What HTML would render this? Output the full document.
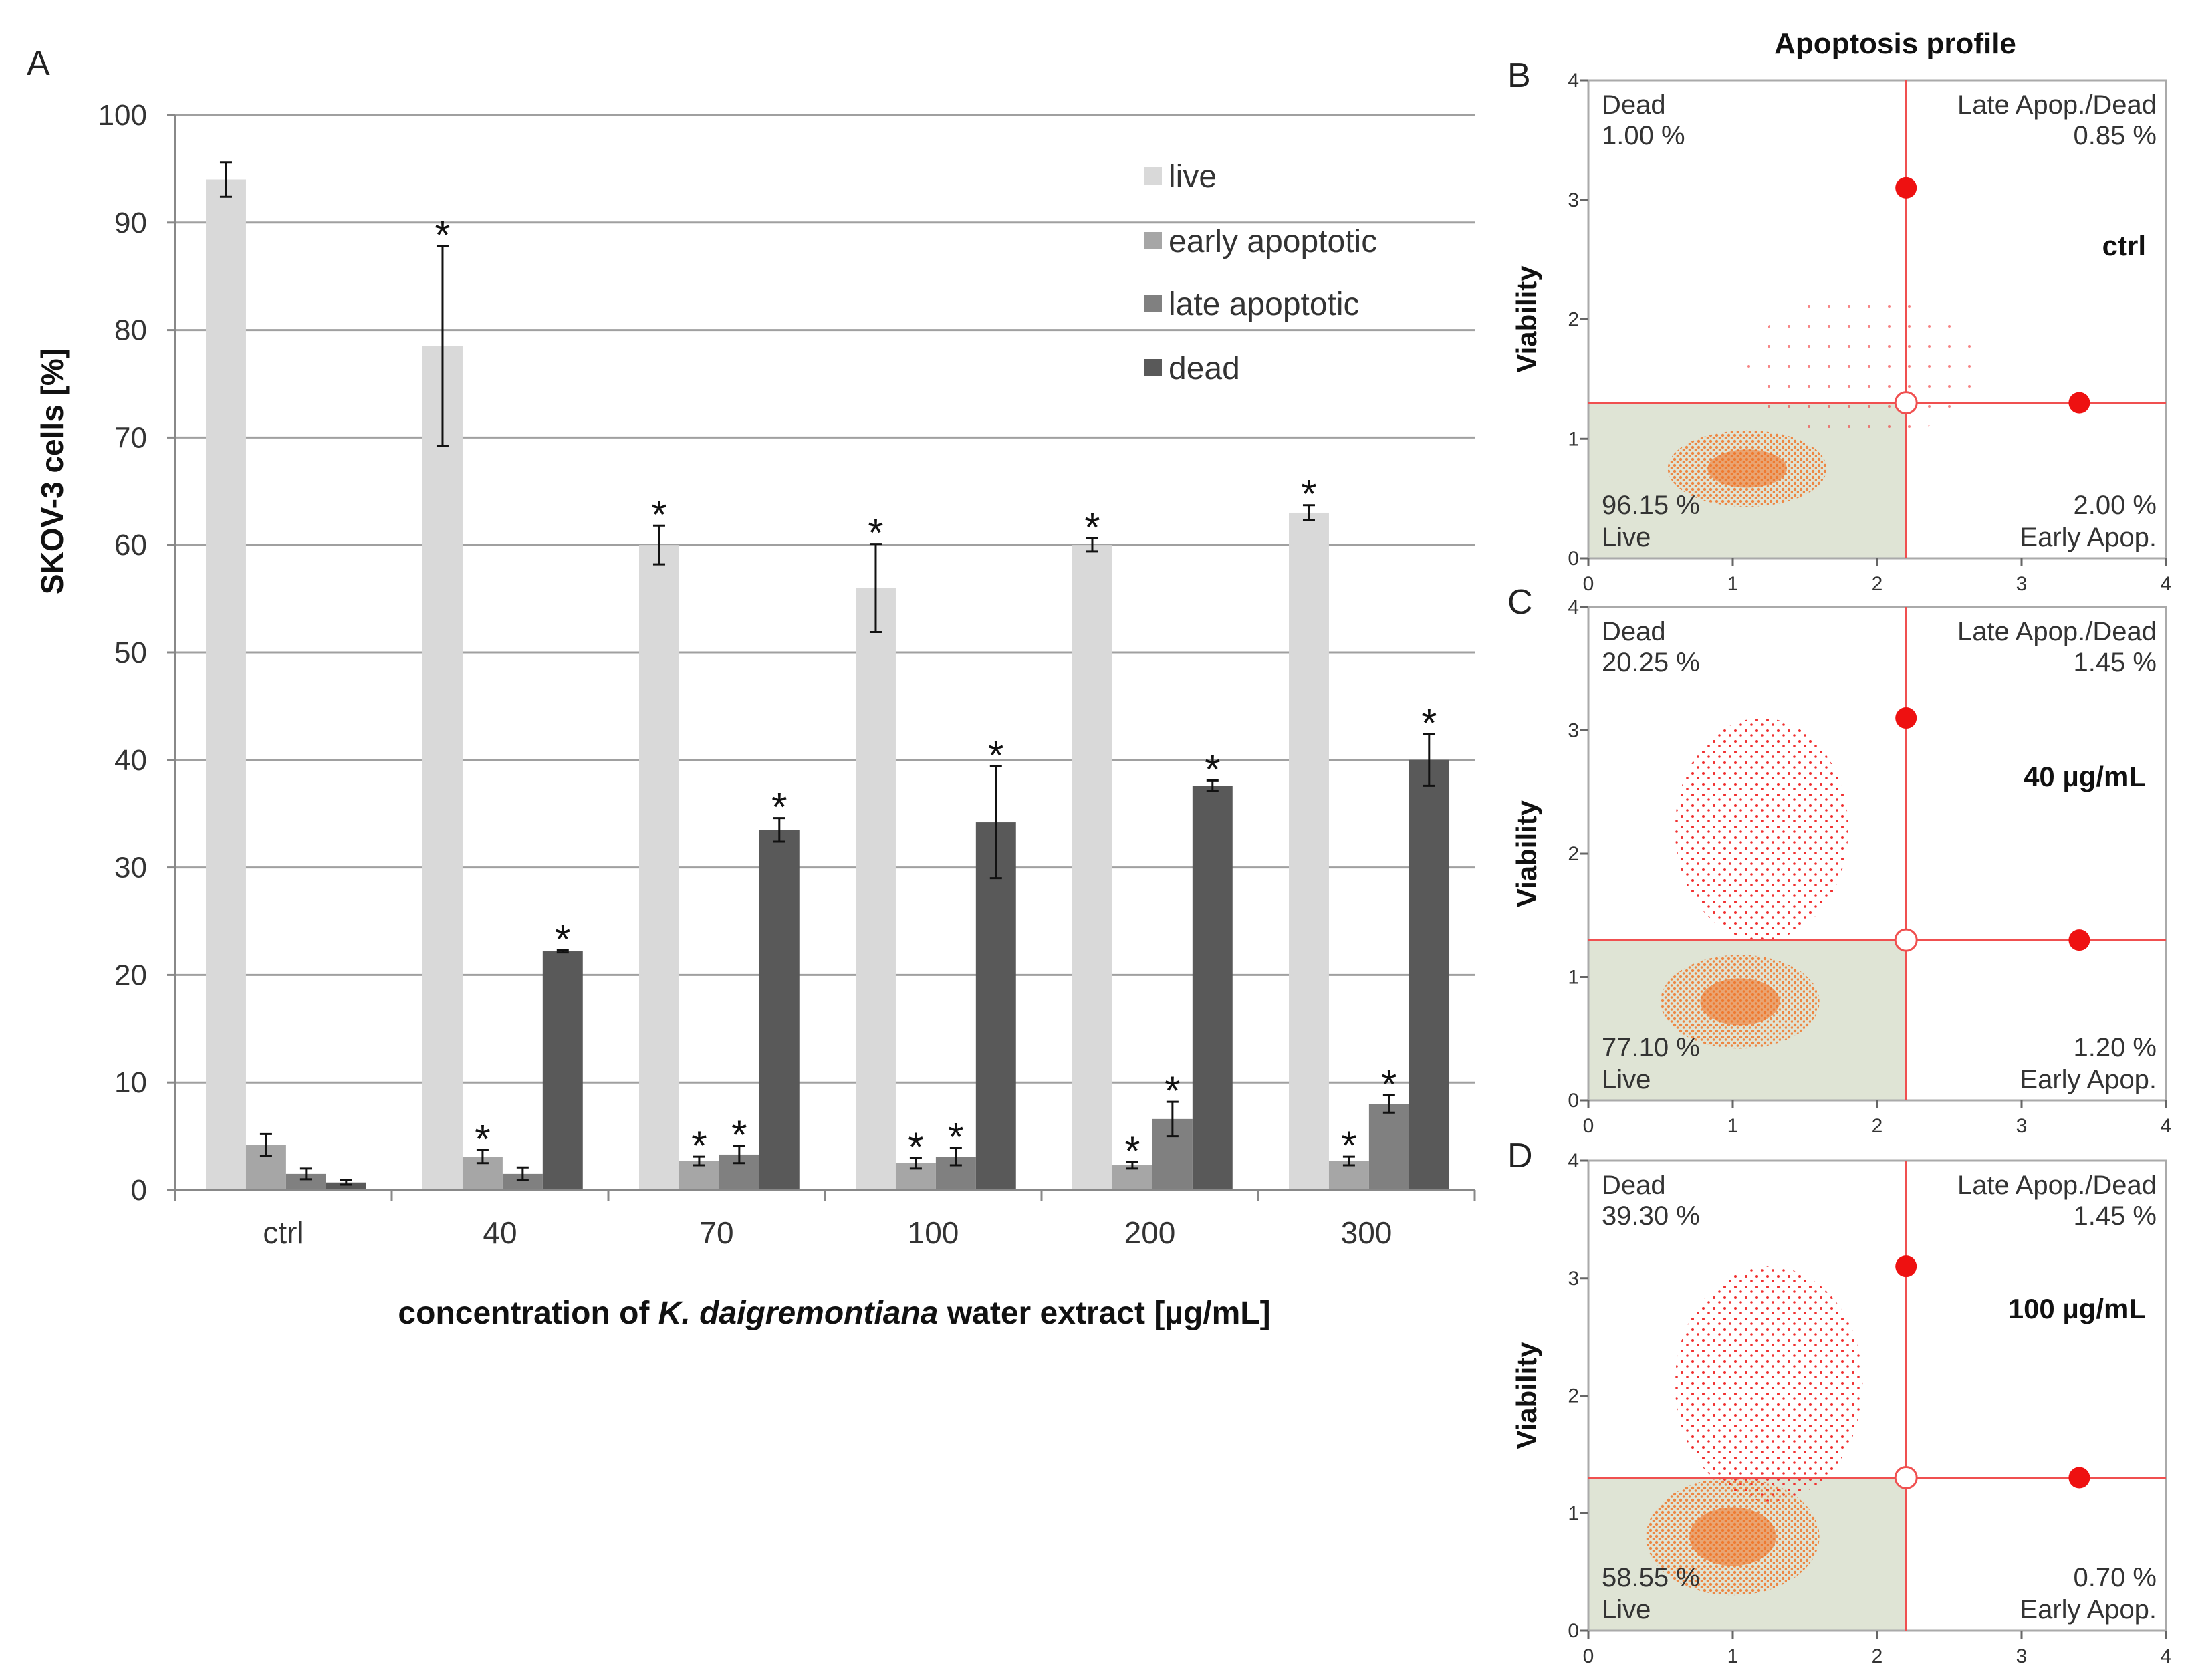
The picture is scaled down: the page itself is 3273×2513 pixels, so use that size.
<!DOCTYPE html>
<html><head><meta charset="utf-8">
<style>
html,body{margin:0;padding:0;background:#fff;}
svg{display:block;font-family:"Liberation Sans",Arial,sans-serif;}
</style></head>
<body>
<svg id="fig" width="3273" height="2513" viewBox="0 0 3273 2513" xmlns="http://www.w3.org/2000/svg">
<defs>
<pattern id="dotsO" width="9" height="9" patternUnits="userSpaceOnUse"><circle cx="3" cy="3" r="2.2" fill="#f07020"/><circle cx="7.5" cy="7" r="1.8" fill="#f07020"/></pattern>
<pattern id="dotsR" width="16" height="16" patternUnits="userSpaceOnUse"><circle cx="4" cy="5" r="2" fill="#f03030"/><circle cx="12" cy="12" r="1.8" fill="#f03030"/></pattern>
<pattern id="dotsRs" width="30" height="30" patternUnits="userSpaceOnUse"><circle cx="6" cy="8" r="2" fill="#f03030"/></pattern>
</defs>
<g id="barchart"></g>
<g id="panels"></g>
</svg>
<script>
const NS="http://www.w3.org/2000/svg";
const categories=["ctrl","40","70","100","200","300"];
const seriesNames=["live","early apoptotic","late apoptotic","dead"];
const liveVals=[94,78.5,60,56,60,63];
const liveErr=[1.6,9.3,1.8,4.1,0.6,0.7];
const earlyVals=[4.2,3.1,2.7,2.5,2.3,2.7];
const earlyErr=[1.0,0.6,0.4,0.5,0.3,0.4];
const lateVals=[1.5,1.5,3.3,3.1,6.6,8.0];
const lateErr=[0.5,0.6,0.8,0.8,1.6,0.8];
const deadVals=[0.7,22.2,33.5,34.2,37.6,40.0];
const deadErr=[0.2,0.1,1.1,5.2,0.5,2.4];
const liveStar=[0,1,1,1,1,1];
const earlyStar=[0,1,1,1,1,1];
const lateStar=[0,0,1,1,1,1];
const deadStar=[0,1,1,1,1,1];
const yTicks=[0,10,20,30,40,50,60,70,80,90,100];

const colors=["#d9d9d9","#a6a6a6","#808080","#595959"];
const X0=262,X1=2206,Y0=1780,Y100=172;
const catW=(X1-X0)/categories.length;
const barW=catW*0.185, barOff=catW*0.142;
const yS=v=>Y0-(v/100)*(Y0-Y100);
const xCat=(i,s)=>X0+i*catW+barOff+s*barW;

function mk(tag,attrs,parent,text){const e=document.createElementNS(NS,tag);for(const k in attrs)e.setAttribute(k,attrs[k]);if(text!==undefined)e.textContent=text;parent.appendChild(e);return e;}
const bc=document.getElementById('barchart');

let t=mk('text',{x:40,y:112,'font-size':52,fill:'#222'},bc,'A');



yTicks.forEach(v=>{
  if(v>0){const l=mk('line',{x1:X0,x2:X1,y1:yS(v),y2:yS(v),stroke:'#a0a0a0','stroke-width':3},bc);
  
  }
  const tx=mk('text',{x:220,y:yS(v)+15,'font-size':44,'text-anchor':'end',fill:'#333'},bc,String(v));
  
  
  const tk=mk('line',{x1:X0-12,x2:X0,y1:yS(v),y2:yS(v),stroke:'#888','stroke-width':3},bc);
  
  
});
let ax=mk('line',{x1:X0,x2:X0,y1:Y100,y2:Y0,stroke:'#888','stroke-width':3},bc);



const vals=[liveVals,earlyVals,lateVals,deadVals];
const errs=[liveErr,earlyErr,lateErr,deadErr];
const stars=[liveStar,earlyStar,lateStar,deadStar];
categories.forEach((c,i)=>{
  vals.forEach((arr,s)=>{
    const x=xCat(i,s),y=yS(arr[i]);
    const r=mk('rect',{x:x,y:y,width:barW,height:Y0-y,fill:colors[s]},bc);
    
    
    const cx=x+barW/2,et=yS(arr[i]+errs[s][i]),eb=yS(arr[i]-errs[s][i]);
    const g=mk('path',{d:`M${cx-9},${et}H${cx+9}M${cx},${et}V${eb}M${cx-9},${eb}H${cx+9}`,stroke:'#111','stroke-width':3,fill:'none'},bc);
    
    
    if(stars[s][i]){
      const st=mk('text',{x:cx,y:et+4,'font-size':60,'text-anchor':'middle',fill:'#111'},bc,'*');
      
      
    }
  });
  const lab=mk('text',{x:X0+(i+0.5)*catW,y:1860,'font-size':46,'text-anchor':'middle',fill:'#333'},bc,c);
  
  
});
for(let i=0;i<=categories.length;i++){
  const tk=mk('line',{x1:X0+i*catW,x2:X0+i*catW,y1:Y0,y2:Y0+16,stroke:'#888','stroke-width':3},bc);
  
  
}
let xa=mk('line',{x1:X0,x2:X1,y1:Y0,y2:Y0,stroke:'#888','stroke-width':3},bc);



let yt=mk('text',{x:0,y:0,'font-size':46,'font-weight':'bold','text-anchor':'middle',fill:'#111',transform:'translate(94,705) rotate(-90)'},bc,'SKOV-3 cells [%]');


let xt=mk('text',{x:1248,y:1980,'font-size':48,'font-weight':'bold','text-anchor':'middle',fill:'#111'},bc);


mk('tspan',{},xt,'concentration of ');
mk('tspan',{'font-style':'italic'},xt,'K. daigremontiana');
mk('tspan',{},xt,' water extract [µg/mL]');

const legY=[264,361,455,551];
seriesNames.forEach((n,s)=>{
  const sq=mk('rect',{x:1712,y:legY[s]-14,width:26,height:26,fill:colors[s]},bc);
  
  
  const tx=mk('text',{x:1748,y:legY[s]+16,'font-size':48,fill:'#333'},bc,n);
  
  
});

/* flow panels */
const panelLetters=["B","C","D"];
const panelTags=["ctrl","40 µg/mL","100 µg/mL"];
const pctDead=["1.00 %","20.25 %","39.30 %"];
const pctLate=["0.85 %","1.45 %","1.45 %"];
const pctLive=["96.15 %","77.10 %","58.55 %"];
const pctEarly=["2.00 %","1.20 %","0.70 %"];
const gateX=2.2, gateY=1.3, markY=3.1, markX=3.4;
const orangeCx=[1.1,1.05,1.0], orangeCy=[0.75,0.8,0.8], orangeRx=[0.55,0.55,0.6], orangeRy=[0.32,0.38,0.5];
const redCx=[1.9,1.2,1.25], redCy=[1.6,2.2,2.1], redRx=[0.8,0.6,0.65], redRy=[0.6,0.9,1.0];
const boxTop=[120,908,1736], boxBot=[835,1646,2439];
const BX0=2376,BX1=3240;
const pn=document.getElementById('panels');
let tt=mk('text',{x:2835,y:80,'font-size':44,'font-weight':'bold','text-anchor':'middle',fill:'#111'},pn,'Apoptosis profile');



panelLetters.forEach((L,p)=>{
  const g=mk('g',{},pn);
  
  
  const T=boxTop[p],B=boxBot[p];
  const sx=v=>BX0+v/4*(BX1-BX0), sy=v=>B-v/4*(B-T);
  const lt=mk('text',{x:2255,y:T+10,'font-size':52,fill:'#222'},g,L);
  
  
  const gr=mk('rect',{x:BX0,y:sy(gateY),width:sx(gateX)-BX0,height:B-sy(gateY),fill:'#dfe4d5'},g);
  
  
  const rc=mk('ellipse',{cx:sx(redCx[p]),cy:sy(redCy[p]),rx:redRx[p]/4*(BX1-BX0),ry:redRy[p]/4*(B-T),fill:p==0?'url(#dotsRs)':'url(#dotsR)',opacity:p==0?0.6:1},g);
  
  
  const oc=mk('ellipse',{cx:sx(orangeCx[p]),cy:sy(orangeCy[p]),rx:orangeRx[p]/4*(BX1-BX0),ry:orangeRy[p]/4*(B-T),fill:'url(#dotsO)',opacity:0.8},g);
  
  
  const oc2=mk('ellipse',{cx:sx(orangeCx[p]),cy:sy(orangeCy[p]),rx:orangeRx[p]/8*(BX1-BX0),ry:orangeRy[p]/8*(B-T),fill:'#f07020',opacity:0.55},g);
  
  
  const bx=mk('rect',{x:BX0,y:T,width:BX1-BX0,height:B-T,fill:'none',stroke:'#aaa','stroke-width':3},g);
  
  
  const vl=mk('line',{x1:sx(gateX),x2:sx(gateX),y1:T,y2:B,stroke:'#f05050','stroke-width':3},g);
  
  
  const hl=mk('line',{x1:BX0,x2:BX1,y1:sy(gateY),y2:sy(gateY),stroke:'#f05050','stroke-width':3},g);
  
  
  const d1=mk('circle',{cx:sx(gateX),cy:sy(markY),r:16,fill:'#ee1111'},g);
  
  
  const d2=mk('circle',{cx:sx(markX),cy:sy(gateY),r:16,fill:'#ee1111'},g);
  
  
  const d3=mk('circle',{cx:sx(gateX),cy:sy(gateY),r:16,fill:'#fff',stroke:'#f05050','stroke-width':3},g);
  
  
  for(let v=0;v<=4;v++){
    const a=mk('text',{x:sx(v),y:B+48,'font-size':30,'text-anchor':'middle',fill:'#333'},g,String(v));
    
    
    const b=mk('text',{x:BX0-14,y:sy(v)+10,'font-size':30,'text-anchor':'end',fill:'#333'},g,String(v));
    
    
    const c1=mk('line',{x1:sx(v),x2:sx(v),y1:B,y2:B+12,stroke:'#666','stroke-width':3},g);
    
    
    const c2=mk('line',{x1:BX0-12,x2:BX0,y1:sy(v),y2:sy(v),stroke:'#666','stroke-width':3},g);
    
    
  }
  const vy=mk('text',{x:0,y:0,'font-size':42,'font-weight':'bold','text-anchor':'middle',fill:'#111',transform:`translate(${2298},${(T+B)/2}) rotate(-90)`},g,'Viability');
  
  
  const fs=40, col='#333';
  const q=[[BX0+20,T+50,'start','Dead'],[BX0+20,T+96,'start',pctDead[p]],[BX1-14,T+50,'end','Late Apop./Dead'],[BX1-14,T+96,'end',pctLate[p]],
           [BX0+20,B-66,'start',pctLive[p]],[BX0+20,B-18,'start','Live'],[BX1-14,B-66,'end',pctEarly[p]],[BX1-14,B-18,'end','Early Apop.']];
  q.forEach(a=>{const e=mk('text',{x:a[0],y:a[1],'font-size':fs,'text-anchor':a[2],fill:col},g,a[3]);
    
    });
  const tg=mk('text',{x:BX1-30,y:T+(p==0?262:p==1?268:236),'font-size':42,'font-weight':'bold','text-anchor':'end',fill:'#111'},g,panelTags[p]);
  
  
});
</script>
</body></html>
